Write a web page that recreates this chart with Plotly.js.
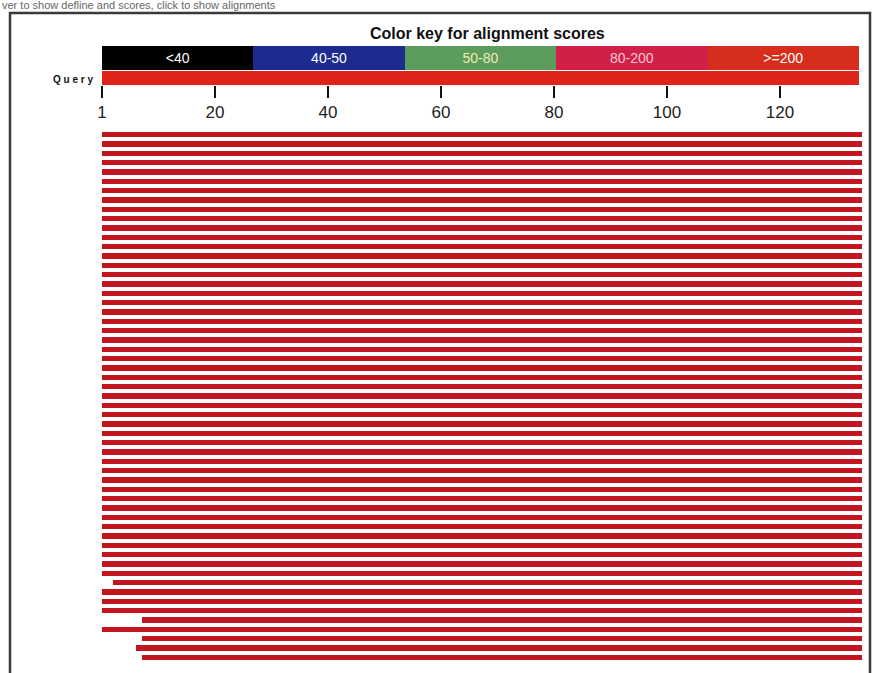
<!DOCTYPE html>
<html>
<head>
<meta charset="utf-8">
<script src="https://cdn.plot.ly/plotly-3.0.1.min.js"></script>
<style>
html,body{margin:0;padding:0;background:#ffffff;}
#chart{width:877px;height:673px;}
</style>
</head>
<body>
<div id="chart"></div>
<script>
// ---- data ----
var queryLength = 134;
var tickVals = [0, 20, 40, 60, 80, 100, 120];
var tickText = ['1', '20', '40', '60', '80', '100', '120'];

var keyLabels = ['<40', '40-50', '50-80', '80-200', '>=200'];
var keyColors = ['#000000', '#1d2a8f', '#5c9c5c', '#d21f48', '#d62d1c'];
var keyTextColors = ['#ffffff', '#ffffff', '#ecebb0', '#f6c8d0', '#ffffff'];

// 57 hits, start/end positions on the query (1-based)
var hitStart = [
  1,1,1,1,1,1,1,1,1,1,
  1,1,1,1,1,1,1,1,1,1,
  1,1,1,1,1,1,1,1,1,1,
  1,1,1,1,1,1,1,1,1,1,
  1,1,1,1,1,1,1,1,3,1,
  1,1,8,1,8,7,8
];
var hitEnd = [];
for (var i = 0; i < hitStart.length; i++) hitEnd.push(134);
var hitColor = '#c1161f';

// ---- layout helpers ----
var W = 877, H = 673;
function py(px) { return 1 - px / H; }
function pxx(px) { return px / W; }
var xDom = [pxx(102), pxx(859)];
var xDomHits = [pxx(102), pxx(862)];

var rows = [], bases = [], lens = [];
for (var k = 0; k < hitStart.length; k++) {
  rows.push(k);
  bases.push(hitStart[k] - 1);
  lens.push(hitEnd[k] - (hitStart[k] - 1));
}

var hitsTrace = {
  type: 'bar', orientation: 'h',
  y: rows, x: lens, base: bases,
  width: 0.6,
  marker: {color: hitColor, line: {width: 0}},
  xaxis: 'x', yaxis: 'y', hoverinfo: 'skip', showlegend: false
};

var queryTrace = {
  type: 'bar', orientation: 'h',
  y: [0], x: [queryLength], base: [0],
  width: 1,
  marker: {color: '#de2418', line: {width: 0}},
  xaxis: 'x2', yaxis: 'y2', hoverinfo: 'skip', showlegend: false
};

var keyBase = [], keyLen = [], keyY = [];
for (var j = 0; j < keyLabels.length; j++) { keyBase.push(j); keyLen.push(1); keyY.push(0); }
var keyTrace = {
  type: 'bar', orientation: 'h',
  y: keyY, x: keyLen, base: keyBase,
  width: 1,
  marker: {color: keyColors, line: {width: 0}},
  text: keyLabels, textposition: 'inside', insidetextanchor: 'middle',
  textangle: 0, constraintext: 'none',
  textfont: {family: 'Arial, Liberation Sans, sans-serif', size: 14, color: keyTextColors},
  xaxis: 'x3', yaxis: 'y3', hoverinfo: 'skip', showlegend: false
};

var hidden = {showgrid: false, zeroline: false, showticklabels: false, ticks: '', showline: false};

var layout = {
  width: W, height: H,
  margin: {l: 0, r: 0, t: 0, b: 0},
  paper_bgcolor: '#ffffff', plot_bgcolor: 'rgba(0,0,0,0)',
  bargap: 0,
  xaxis: Object.assign({}, hidden, {domain: xDomHits, range: [0, queryLength], anchor: 'y'}),
  yaxis: Object.assign({}, hidden, {domain: [py(662), py(130)], range: [hitStart.length - 0.5, -0.5], anchor: 'x'}),
  xaxis2: {domain: xDom, range: [0, queryLength], anchor: 'y2',
    showgrid: false, zeroline: false, showline: false,
    tickvals: tickVals, ticktext: tickText, ticks: 'outside', ticklen: 12, tickwidth: 2, tickcolor: '#111',
    tickfont: {family: 'Arial, Liberation Sans, sans-serif', size: 17, color: '#222'}},
  yaxis2: Object.assign({}, hidden, {domain: [py(85), py(71)], range: [-0.5, 0.5], anchor: 'x2'}),
  xaxis3: Object.assign({}, hidden, {domain: xDom, range: [0, keyLabels.length], anchor: 'y3'}),
  yaxis3: Object.assign({}, hidden, {domain: [py(70), py(46)], range: [-0.5, 0.5], anchor: 'x3'}),
  shapes: [
    {type: 'rect', xref: 'paper', yref: 'paper', x0: pxx(10), x1: pxx(870), y0: -0.02, y1: py(13),
     line: {color: '#3a3a3a', width: 2.5}, fillcolor: 'rgba(0,0,0,0)', layer: 'below'}
  ],
  annotations: [
    {xref: 'paper', yref: 'paper', x: pxx(487), y: py(33), xanchor: 'center', yanchor: 'middle',
     text: '<b>Color key for alignment scores</b>', showarrow: false,
     font: {family: 'Arial, Liberation Sans, sans-serif', size: 16, color: '#111'}},
    {xref: 'paper', yref: 'paper', x: pxx(95), y: py(79), xanchor: 'right', yanchor: 'middle',
     text: '<b>Q u e r y</b>', showarrow: false,
     font: {family: 'Arial, Liberation Sans, sans-serif', size: 10, color: '#111'}},
    {xref: 'paper', yref: 'paper', x: pxx(0), y: py(5), xanchor: 'left', yanchor: 'middle',
     text: 'ver to show defline and scores, click to show alignments', showarrow: false,
     font: {family: 'Arial, Liberation Sans, sans-serif', size: 11, color: '#666'}}
  ]
};

Plotly.newPlot('chart', [hitsTrace, queryTrace, keyTrace], layout, {displayModeBar: false, staticPlot: true});
</script>
</body>
</html>
